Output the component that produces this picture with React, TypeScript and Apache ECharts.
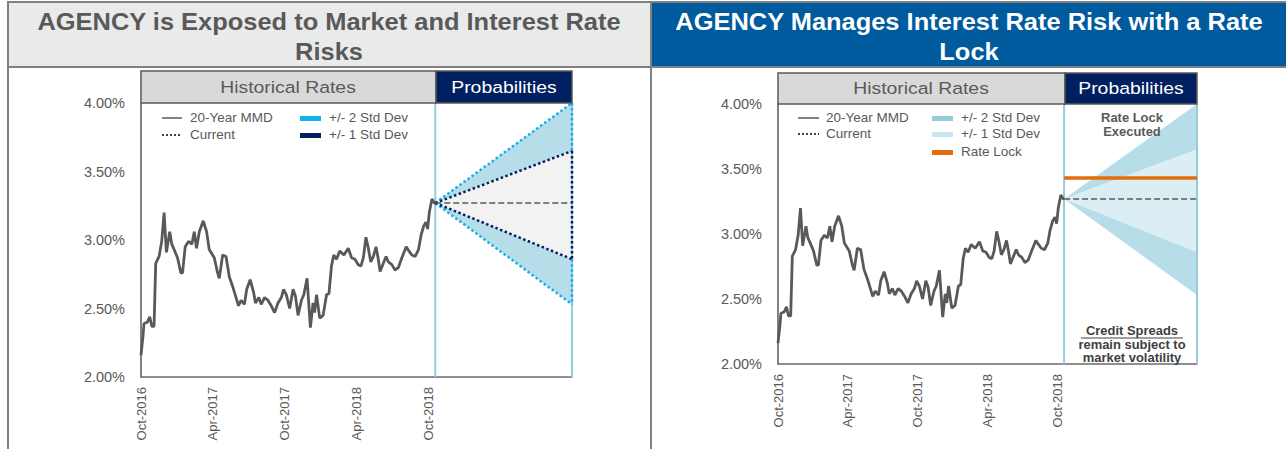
import React, { useEffect, useRef } from "react";
import * as echarts from "echarts";

// Months since Oct-2016 and the 20-Year MMD rate (%)
const histMonths = [0, 0.17, 0.25, 0.53, 0.73, 0.9, 1.09, 1.23, 1.51, 1.73, 1.93, 2.12, 2.4, 2.57, 2.77, 3.05, 3.33, 3.47, 3.69, 3.97, 4.25, 4.45, 4.64, 4.87, 5.2, 5.48, 5.7, 6.12, 6.4, 6.54, 6.82, 7.1, 7.38, 7.66, 7.94, 8.14, 8.36, 8.64, 8.83, 9.12, 9.4, 9.56, 9.84, 10.04, 10.32, 10.6, 10.88, 11.16, 11.44, 11.72, 11.91, 12.14, 12.42, 12.7, 12.9, 13.12, 13.4, 13.6, 13.87, 14.15, 14.37, 14.5, 14.66, 14.93, 15.21, 15.5, 15.7, 15.91, 16.1, 16.33, 16.6, 16.95, 17.31, 17.59, 17.87, 18.15, 18.37, 18.57, 18.79, 18.99, 19.19, 19.41, 19.63, 19.82, 19.97, 20.24, 20.47, 20.66, 20.95, 21.22, 21.5, 21.79, 22.15, 22.3, 22.62, 22.9, 23.18, 23.38, 23.6, 23.8, 23.94, 24.08, 24.3, 24.5, 24.58];
const histRates = [2.16, 2.30, 2.39, 2.40, 2.44, 2.37, 2.37, 2.83, 2.88, 2.99, 3.20, 2.91, 3.06, 2.97, 2.93, 2.87, 2.76, 2.76, 2.95, 2.99, 2.97, 3.06, 2.94, 3.06, 3.14, 3.06, 2.93, 2.87, 2.76, 2.72, 2.89, 2.88, 2.73, 2.66, 2.58, 2.52, 2.56, 2.53, 2.64, 2.71, 2.62, 2.54, 2.58, 2.53, 2.58, 2.56, 2.52, 2.47, 2.54, 2.58, 2.64, 2.60, 2.50, 2.64, 2.59, 2.45, 2.56, 2.60, 2.72, 2.36, 2.54, 2.47, 2.60, 2.43, 2.45, 2.60, 2.61, 2.81, 2.89, 2.86, 2.92, 2.89, 2.94, 2.87, 2.86, 2.82, 2.81, 2.87, 3.02, 2.94, 2.84, 2.88, 2.95, 2.86, 2.77, 2.83, 2.88, 2.84, 2.82, 2.78, 2.80, 2.87, 2.95, 2.93, 2.89, 2.88, 2.93, 3.03, 3.10, 3.13, 3.08, 3.20, 3.30, 3.27, 3.27];

const xTickLabels = ["Oct-2016", "Apr-2017", "Oct-2017", "Apr-2018", "Oct-2018"];

// Probability fan
const fanStartMonth = 24.58;
const fanEndMonth = 36;
const currentRate = 3.27;
const plus2Sd = 4.0;
const plus1Sd = 3.65;
const minus1Sd = 2.86;
const minus2Sd = 2.53;
const rateLock = 3.43;

const FONT = "Liberation Sans";
const GRAY = "#595959";
const DIVIDER = "#92cddc";

function axes(gridIndex: number) {
  return {
    x: {
      type: "value",
      gridIndex,
      min: 0,
      max: 36,
      interval: 6,
      axisLine: { show: true, onZero: false, lineStyle: { color: "#6b6b6b", width: 1.5 } },
      axisTick: { show: false },
      splitLine: { show: false },
      axisLabel: {
        rotate: 90,
        margin: 10,
        color: GRAY,
        fontSize: 13,
        fontFamily: FONT,
        formatter: (v: number) => {
          const i = Math.round(v / 6);
          return Math.abs(v - i * 6) < 1e-6 && i < xTickLabels.length ? xTickLabels[i] : "";
        },
      },
    },
    y: {
      type: "value",
      gridIndex,
      min: 2,
      max: 4,
      interval: 0.5,
      axisLine: { show: true, onZero: false, lineStyle: { color: GRAY, width: 1.5 } },
      axisTick: { show: false },
      splitLine: { show: false },
      axisLabel: {
        margin: 16,
        color: GRAY,
        fontSize: 14.5,
        fontFamily: FONT,
        formatter: (v: number) => v.toFixed(2) + "%",
      },
    },
  };
}

function band(idx: number, yA: number, yB: number, color: string) {
  return {
    type: "custom",
    xAxisIndex: idx,
    yAxisIndex: idx,
    coordinateSystem: "cartesian2d",
    silent: true,
    z: 1,
    encode: { x: [0, 2], y: [1, 3, 4] },
    data: [[fanStartMonth, currentRate, fanEndMonth, yA, yB]],
    renderItem: (_p: any, api: any) => {
      const p0 = api.coord([api.value(0), api.value(1)]);
      const p1 = api.coord([api.value(2), api.value(3)]);
      const p2 = api.coord([api.value(2), api.value(4)]);
      return { type: "polygon", shape: { points: [p0, p1, p2] }, style: { fill: color } };
    },
  };
}

function seg(idx: number, data: number[][], color: string, width: number, type: string, z = 3) {
  return {
    type: "line",
    xAxisIndex: idx,
    yAxisIndex: idx,
    data,
    showSymbol: false,
    silent: true,
    z,
    lineStyle: { color, width, type },
  };
}

function commonSeries(idx: number) {
  return [
    seg(idx, [[fanStartMonth, 2], [fanStartMonth, 4]], DIVIDER, 2, "solid", 2),
    seg(idx, [[fanEndMonth, 2], [fanEndMonth, 4]], DIVIDER, 2, "solid", 2),
    {
      type: "line",
      xAxisIndex: idx,
      yAxisIndex: idx,
      data: histMonths.map((m, i) => [m, histRates[i]]),
      showSymbol: false,
      silent: true,
      z: 6,
      lineStyle: { color: GRAY, width: 2.8 },
    },
    seg(idx, [[fanStartMonth, currentRate], [fanEndMonth, currentRate]], GRAY, 1.5, "dashed", 5),
  ];
}

function txt(x: number, y: number, text: string, opts: any = {}) {
  return {
    type: "text",
    x,
    y,
    scaleX: opts.scaleX || 1,
    silent: true,
    z: 20,
    style: {
      text,
      fill: opts.fill || GRAY,
      fontSize: opts.fontSize || 12.5,
      fontWeight: opts.fontWeight || "normal",
      fontFamily: FONT,
      align: opts.align || "left",
      verticalAlign: "middle",
    },
  };
}

function lineG(x1: number, y1: number, x2: number, y2: number, stroke: string, lineWidth: number, lineDash?: number[]) {
  return {
    type: "line",
    silent: true,
    z: 20,
    shape: { x1, y1, x2, y2 },
    style: { stroke, lineWidth, lineDash },
  };
}

function rectG(x: number, y: number, w: number, h: number, fill: string, stroke?: string, lineWidth = 1.5) {
  return {
    type: "rect",
    silent: true,
    z: 15,
    shape: { x, y, width: w, height: h },
    style: { fill, stroke, lineWidth: stroke ? lineWidth : 0 },
  };
}

export default function App() {
  const ref = useRef<HTMLDivElement>(null);
  useEffect(() => {
    if (!ref.current) return;
    const chart = echarts.init(ref.current, undefined, { renderer: "svg" });
    const a0 = axes(0);
    const a1 = axes(1);
    const title = { fontSize: 24, fontWeight: "bold", align: "center", scaleX: 1.06 };
    const head = { fontSize: 17, align: "center", scaleX: 1.14 };
    const leg = { fontSize: 12.5, scaleX: 1.08 };
    const note = { fontSize: 12, fontWeight: "bold", align: "center", scaleX: 1.08 };
    const option: any = {
      animation: false,
      backgroundColor: "#ffffff",
      grid: [
        { left: 141, top: 103, width: 431, height: 274 },
        { left: 778, top: 104, width: 419, height: 260 },
      ],
      xAxis: [a0.x, a1.x],
      yAxis: [a0.y, a1.y],
      series: [
        // Left chart
        band(0, plus2Sd, plus1Sd, "#b7dde8"),
        band(0, plus1Sd, minus1Sd, "#f2f2f2"),
        band(0, minus1Sd, minus2Sd, "#b7dde8"),
        ...commonSeries(0),
        seg(0, [[fanStartMonth, currentRate], [fanEndMonth, plus2Sd]], "#12b0ec", 2.5, "dotted", 4),
        seg(0, [[fanStartMonth, currentRate], [fanEndMonth, minus2Sd]], "#12b0ec", 2.5, "dotted", 4),
        seg(0, [[fanStartMonth, currentRate], [fanEndMonth, plus1Sd]], "#002060", 2.5, "dotted", 4),
        seg(0, [[fanStartMonth, currentRate], [fanEndMonth, minus1Sd]], "#002060", 2.5, "dotted", 4),
        seg(0, [[fanEndMonth, plus2Sd], [fanEndMonth, plus1Sd]], "#12b0ec", 2.5, "dotted", 4),
        seg(0, [[fanEndMonth, plus1Sd], [fanEndMonth, minus1Sd]], "#002060", 2.5, "dotted", 4),
        seg(0, [[fanEndMonth, minus1Sd], [fanEndMonth, minus2Sd]], "#12b0ec", 2.5, "dotted", 4),
        // Right chart
        band(1, plus2Sd, plus1Sd, "#b7dde8"),
        band(1, plus1Sd, minus1Sd, "#daeef3"),
        band(1, minus1Sd, minus2Sd, "#b7dde8"),
        ...commonSeries(1),
        seg(1, [[fanStartMonth, rateLock], [fanEndMonth, rateLock]], "#e46c0a", 3.5, "solid", 5),
      ],
      graphic: [
        // Panel headers
        rectG(8, 2, 643, 65, "#e9eaea", "#808080", 2),
        rectG(651, 2, 640, 65, "#005a9e", "#808080", 2),
        lineG(8, 2, 8, 449, "#808080", 2),
        lineG(651, 2, 651, 449, "#808080", 2),
        txt(329, 22, "AGENCY is Exposed to Market and Interest Rate", title),
        txt(329, 52, "Risks", title),
        txt(969, 22, "AGENCY Manages Interest Rate Risk with a Rate", { ...title, fill: "#ffffff" }),
        txt(969, 52, "Lock", { ...title, fill: "#ffffff" }),
        // Left chart section headers
        rectG(141, 71, 295, 32, "#d9d9d9", GRAY),
        rectG(436, 71, 136, 32, "#002060", GRAY),
        txt(288, 87, "Historical Rates", head),
        txt(504, 87, "Probabilities", { ...head, fill: "#ffffff" }),
        // Right chart section headers
        rectG(778, 73, 287, 31, "#d9d9d9", GRAY),
        rectG(1065, 73, 132, 31, "#002060", GRAY),
        txt(921, 88, "Historical Rates", head),
        txt(1131, 88, "Probabilities", { ...head, fill: "#ffffff" }),
        // Left legend
        lineG(162, 118, 182, 118, GRAY, 1.5),
        txt(190, 118, "20-Year MMD", leg),
        lineG(162, 135, 182, 135, "#404040", 2, [2, 2]),
        txt(190, 135, "Current", leg),
        rectG(300, 116, 21, 5, "#12b0ec"),
        txt(329, 118, "+/- 2 Std Dev", leg),
        rectG(300, 133, 21, 5, "#002060"),
        txt(329, 135, "+/- 1 Std Dev", leg),
        // Right legend
        lineG(798, 118, 819, 118, GRAY, 1.5),
        txt(826, 118, "20-Year MMD", leg),
        lineG(798, 134, 819, 134, "#404040", 2, [2, 2]),
        txt(826, 134, "Current", leg),
        rectG(932, 116, 21, 5, "#92cddc"),
        txt(961, 118, "+/- 2 Std Dev", leg),
        rectG(932, 132, 21, 5, "#c9e6ef"),
        txt(961, 134, "+/- 1 Std Dev", leg),
        rectG(932, 150, 21, 5, "#e46c0a"),
        txt(961, 152, "Rate Lock", leg),
        // Right annotations
        txt(1132, 118, "Rate Lock", note),
        txt(1132, 132, "Executed", note),
        txt(1132, 331, "Credit Spreads", { ...note, fill: "#404040" }),
        lineG(1081, 338, 1183, 338, "#404040", 1),
        txt(1132, 345, "remain subject to", { ...note, fill: "#404040" }),
        txt(1132, 358, "market volatility", { ...note, fill: "#404040" }),
      ],
    };
    chart.setOption(option);
    return () => chart.dispose();
  }, []);
  return (
    <div
      ref={ref}
      style={{ position: "fixed", left: 0, top: 0, width: 1286, height: 449, background: "#fff" }}
    />
  );
}
